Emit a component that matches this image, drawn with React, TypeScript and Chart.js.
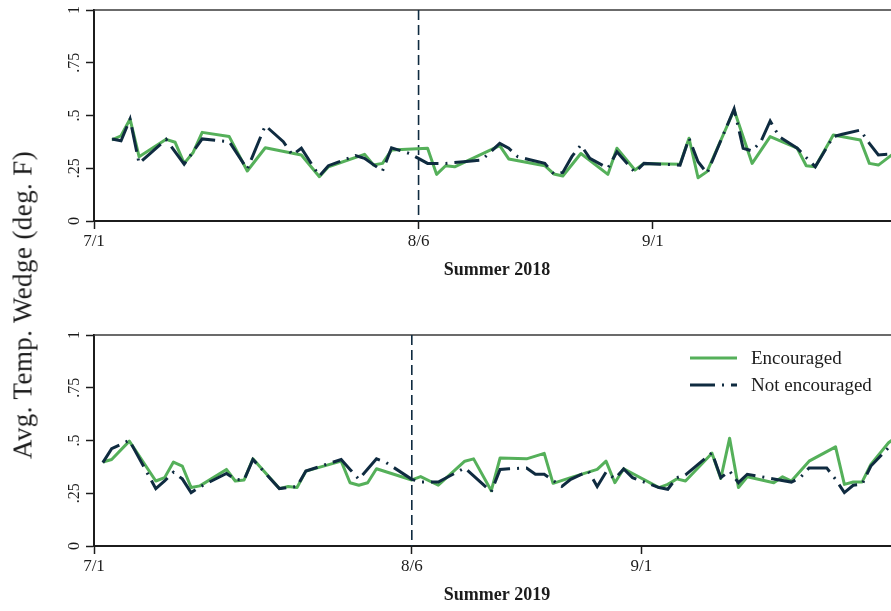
import React, { useEffect, useRef } from 'react';
import { Chart, registerables } from 'chart.js';

Chart.register(...registerables);

// Days counted from July 1 (day 0).
const TICK_DAYS = [0, 36, 62];
const TICK_LABELS = ['7/1', '8/6', '9/1'];
const Y_TICKS = [0, 0.25, 0.5, 0.75, 1];
const Y_TICK_LABELS = ['0', '.25', '.5', '.75', '1'];
const EVENT_DAY = 36; // 8/6

const X_MAX_2018 = 89.4;
const X_MAX_2019 = 91.3;

// [day, avg. temperature wedge]
const ENC_2018: [number, number][] = [
  [2, 0.384], [3, 0.404], [4, 0.483], [5, 0.305], [8, 0.387], [9, 0.373], [10, 0.273], [11, 0.325],
  [12, 0.42], [15, 0.4], [17, 0.237], [19, 0.347], [23, 0.313], [25, 0.21], [26, 0.257], [30, 0.316],
  [31, 0.265], [32, 0.273], [33, 0.336], [37, 0.345], [38, 0.221], [39, 0.262], [40, 0.257], [45, 0.357],
  [46, 0.294], [50, 0.262], [51, 0.223], [52, 0.213], [54, 0.32], [57, 0.221], [58, 0.345], [60, 0.242],
  [61, 0.273], [65, 0.269], [66, 0.392], [67, 0.205], [68, 0.234], [71, 0.526], [73, 0.273], [75, 0.4],
  [78, 0.345], [79, 0.262], [80, 0.257], [82, 0.408], [85, 0.384], [86, 0.273], [87, 0.265], [89, 0.33],
  [90, 0.36],
];

const NOT_2018: [number, number][] = [
  [2, 0.389], [3, 0.38], [4, 0.483], [5, 0.273], [8, 0.387], [10, 0.269], [12, 0.389], [15, 0.376],
  [17, 0.246], [19, 0.452], [21, 0.376], [22, 0.313], [23, 0.345], [25, 0.213], [26, 0.262], [29, 0.31],
  [30, 0.297], [32, 0.237], [33, 0.347], [35, 0.32], [37, 0.273], [39, 0.273], [41, 0.281], [43, 0.289],
  [45, 0.368], [46, 0.345], [47, 0.305], [48, 0.294], [50, 0.273], [51, 0.223], [52, 0.23], [53, 0.305],
  [54, 0.36], [55, 0.297], [57, 0.25], [58, 0.328], [60, 0.23], [61, 0.273], [65, 0.265], [66, 0.392],
  [67, 0.281], [68, 0.226], [71, 0.531], [72, 0.345], [73, 0.332], [74, 0.379], [75, 0.474], [76, 0.4],
  [78, 0.345], [80, 0.257], [82, 0.4], [83, 0.411], [85, 0.431], [86, 0.368], [87, 0.313], [88, 0.316],
  [89, 0.352], [90, 0.4],
];

const ENC_2019: [number, number][] = [
  [1, 0.398], [2, 0.41], [4, 0.497], [7, 0.308], [8, 0.324], [9, 0.398], [10, 0.379], [11, 0.277],
  [12, 0.285], [15, 0.363], [16, 0.308], [17, 0.313], [18, 0.413], [21, 0.272], [22, 0.282], [23, 0.277],
  [24, 0.355], [28, 0.402], [29, 0.3], [30, 0.288], [31, 0.3], [32, 0.366], [36, 0.313], [37, 0.329],
  [39, 0.288], [42, 0.402], [43, 0.413], [45, 0.262], [46, 0.417], [49, 0.413], [51, 0.439], [52, 0.297],
  [54, 0.324], [57, 0.363], [58, 0.402], [59, 0.3], [60, 0.366], [64, 0.277], [65, 0.292], [66, 0.318],
  [67, 0.308], [70, 0.44], [71, 0.32], [72, 0.511], [73, 0.277], [74, 0.328], [77, 0.3], [78, 0.328],
  [79, 0.308], [81, 0.402], [84, 0.47], [85, 0.292], [86, 0.303], [87, 0.303], [88, 0.387], [90, 0.489],
  [91, 0.52],
];

const NOT_2019: [number, number][] = [
  [1, 0.395], [2, 0.461], [3, 0.481], [4, 0.501], [7, 0.272], [8, 0.308], [9, 0.35], [10, 0.318],
  [11, 0.253], [12, 0.28], [15, 0.344], [16, 0.316], [17, 0.313], [18, 0.41], [21, 0.272], [23, 0.282],
  [24, 0.355], [28, 0.41], [29, 0.363], [30, 0.316], [32, 0.413], [33, 0.398], [36, 0.316], [37, 0.303],
  [39, 0.303], [42, 0.37], [45, 0.257], [46, 0.363], [47, 0.366], [49, 0.37], [50, 0.34], [51, 0.34],
  [53, 0.282], [54, 0.316], [56, 0.355], [57, 0.282], [58, 0.35], [59, 0.318], [60, 0.365], [61, 0.324],
  [64, 0.277], [65, 0.269], [66, 0.324], [67, 0.337], [70, 0.442], [71, 0.324], [72, 0.355], [73, 0.3],
  [74, 0.34], [77, 0.318], [79, 0.303], [80, 0.324], [81, 0.37], [83, 0.37], [84, 0.316], [85, 0.253],
  [86, 0.288], [87, 0.292], [88, 0.379], [90, 0.466], [91, 0.5],
];

const GREEN = '#55b05a';
const NAVY = '#0f2b40';
const INK = '#1c1c1c';
const DASH_DOT = [25, 7, 2, 7];
const SERIF = "'Liberation Serif', 'Times New Roman', serif";

const LEGEND = [
  { label: 'Encouraged', color: GREEN, dash: [] as number[] },
  { label: 'Not encouraged', color: NAVY, dash: DASH_DOT },
];

// Top frame line, the 8/6 reference line and rotated y tick labels.
const panelDecor = {
  id: 'panelDecor',
  beforeDatasetsDraw(chart: any) {
    const { ctx, chartArea: a, scales } = chart;
    ctx.save();
    ctx.strokeStyle = '#3a3a3a';
    ctx.lineWidth = 1.3;
    ctx.beginPath();
    ctx.moveTo(a.left, a.top);
    ctx.lineTo(a.right, a.top);
    ctx.stroke();
    const px = scales.x.getPixelForValue(EVENT_DAY);
    ctx.strokeStyle = NAVY;
    ctx.lineWidth = 1.6;
    ctx.setLineDash([10, 5]);
    ctx.beginPath();
    ctx.moveTo(px, a.top);
    ctx.lineTo(px, a.bottom);
    ctx.stroke();
    ctx.restore();
  },
  afterDraw(chart: any) {
    const { ctx, scales } = chart;
    const y = scales.y;
    ctx.save();
    ctx.font = `16px ${SERIF}`;
    ctx.fillStyle = INK;
    ctx.textAlign = 'center';
    ctx.textBaseline = 'alphabetic';
    Y_TICKS.forEach((v, i) => {
      const py = y.getPixelForValue(v);
      ctx.save();
      ctx.translate(y.right - 15, py);
      ctx.rotate(-Math.PI / 2);
      ctx.fillText(Y_TICK_LABELS[i], 0, 0);
      ctx.restore();
    });
    ctx.restore();
  },
};

function toPoints(rows: [number, number][]) {
  return rows.map(([x, y]) => ({ x, y }));
}

function Panel({ title, enc, notEnc, xMax, top }: {
  title: string; enc: [number, number][]; notEnc: [number, number][]; xMax: number; top: number;
}) {
  const ref = useRef<HTMLCanvasElement | null>(null);
  useEffect(() => {
    if (!ref.current) return;
    const chart = new Chart(ref.current, {
      type: 'line',
      data: {
        datasets: [
          {
            label: 'Not encouraged',
            data: toPoints(notEnc),
            borderColor: NAVY,
            borderWidth: 3,
            borderDash: DASH_DOT,
            pointRadius: 0,
            tension: 0,
          },
          {
            label: 'Encouraged',
            data: toPoints(enc),
            borderColor: GREEN,
            borderWidth: 3,
            borderJoinStyle: 'round',
            pointRadius: 0,
            tension: 0,
          },
        ],
      },
      options: {
        responsive: false,
        animation: false,
        devicePixelRatio: 1,
        layout: { padding: { top: 10, right: 5, bottom: 0, left: 0 } },
        plugins: { legend: { display: false }, tooltip: { enabled: false } },
        scales: {
          x: {
            type: 'linear',
            min: 0,
            max: xMax,
            afterBuildTicks: (s: any) => { s.ticks = TICK_DAYS.map((v) => ({ value: v })); },
            afterFit: (s: any) => { s.height = 60; },
            ticks: {
              callback: (_v: any, i: number) => TICK_LABELS[i],
              font: { family: SERIF, size: 17 },
              color: INK,
              padding: 2,
              maxRotation: 0,
              autoSkip: false,
            },
            grid: { drawOnChartArea: false, tickLength: 8, tickWidth: 1.5, tickColor: INK },
            border: { color: INK, width: 2 },
            title: {
              display: true,
              text: title,
              font: { family: SERIF, size: 18, weight: 'bold', lineHeight: 1.2 },
              color: INK,
              padding: { top: 0, bottom: 0 },
            },
          },
          y: {
            min: 0,
            max: 1,
            afterBuildTicks: (s: any) => { s.ticks = Y_TICKS.map((v) => ({ value: v })); },
            afterFit: (s: any) => { s.width = 94; },
            ticks: { display: false },
            grid: { drawOnChartArea: false, tickLength: 8, tickWidth: 1.5, tickColor: INK },
            border: { color: INK, width: 2 },
          },
        },
      },
      plugins: [panelDecor],
    } as any);
    return () => chart.destroy();
  }, [title, enc, notEnc, xMax]);

  return (
    <canvas
      ref={ref}
      width={905}
      height={281}
      style={{ position: 'absolute', left: 0, top, width: 905, height: 281 }}
    />
  );
}

export default function App() {
  return (
    <div style={{ position: 'fixed', left: 0, top: 0, width: 891, height: 611, overflow: 'hidden', background: '#fff' }}>
      <Panel title="Summer 2018" enc={ENC_2018} notEnc={NOT_2018} xMax={X_MAX_2018} top={0} />
      <Panel title="Summer 2019" enc={ENC_2019} notEnc={NOT_2019} xMax={X_MAX_2019} top={325} />
      <div
        style={{
          position: 'absolute', left: 23, top: 305,
          transform: 'translate(-50%, -50%) rotate(-90deg)',
          whiteSpace: 'nowrap', fontFamily: SERIF, fontSize: 27, color: INK,
          letterSpacing: '0.4px',
        }}
      >
        Avg. Temp. Wedge (deg. F)
      </div>
      <div style={{ position: 'absolute', left: 690, top: 344, fontFamily: SERIF, fontSize: 19, color: INK }}>
        {LEGEND.map((item) => (
          <div key={item.label} style={{ display: 'flex', alignItems: 'center', height: 27 }}>
            <svg width={47} height={6} style={{ display: 'block' }}>
              <line x1={0} y1={3} x2={47} y2={3} stroke={item.color} strokeWidth={3}
                strokeDasharray={item.dash.length ? item.dash.join(' ') : undefined} />
            </svg>
            <span style={{ marginLeft: 14, lineHeight: '27px', whiteSpace: 'nowrap' }}>{item.label}</span>
          </div>
        ))}
      </div>
    </div>
  );
}
